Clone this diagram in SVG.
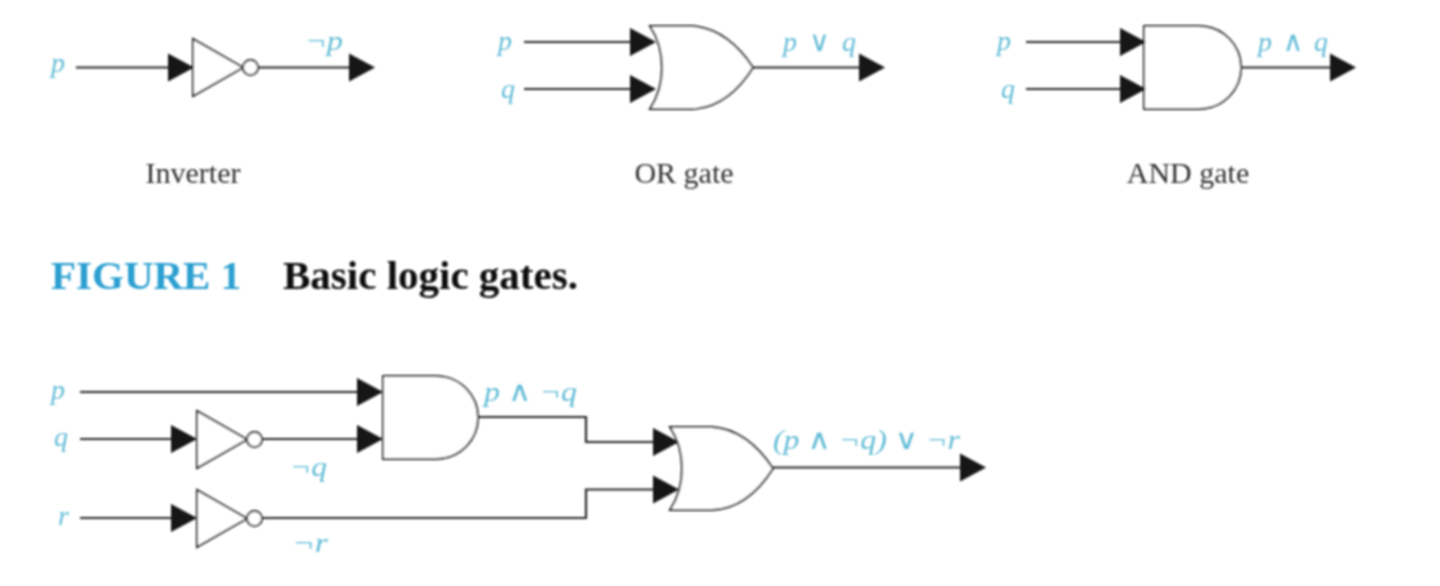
<svg xmlns="http://www.w3.org/2000/svg" width="1440" height="586" viewBox="0 0 1440 586">
<style>
.gate{fill:#fff;stroke:#1e1e1e;stroke-width:1.900}
.wire{fill:none;stroke:#262626;stroke-width:2.200;marker-end:url(#arrow)}
text{font-family:"Liberation Serif","DejaVu Serif",serif}
.lab{font-style:italic;font-size:28px;fill:#62bcd6}
.cap{font-size:30px;fill:#333;text-anchor:middle}
.head{font-size:41px;font-weight:bold}
</style>
<defs>
<marker id="arrow" markerUnits="userSpaceOnUse" markerWidth="27" markerHeight="30" refX="0" refY="15" orient="auto"><path d="M0 1L26 15L0 29Z" fill="#141414"/></marker>
<filter id="soft" filterUnits="userSpaceOnUse" x="0" y="0" width="1440" height="586"><feGaussianBlur stdDeviation="0.8"/></filter>
</defs>
<rect width="1440" height="586" fill="#fff"/>
<g filter="url(#soft)">
<g id="inverter-1"><path class="gate" d="M193 39V96L243 67.500Z"/><circle class="gate" cx="250.500" cy="67.500" r="7.500"/></g>
<g id="or-1"><path class="gate" d="M650 26H692C720 28 740 48 753 67.500C740 88 720 108 692 109H650C666 85 666 50 650 26Z"/></g>
<g id="and-1"><path class="gate" d="M1144 26H1198C1224 26 1241 46 1241 67.500C1241 89 1224 109 1198 109H1144Z"/></g>
<g id="and-2"><path class="gate" d="M383 376H435C461 376 478 396 478 417.500C478 439 461 459 435 459H383Z"/></g>
<g id="or-2" transform="translate(20,401)"><path class="gate" d="M650 26H692C720 28 740 48 753 67.500C740 88 720 108 692 109H650C666 85 666 50 650 26Z"/></g>
<g id="inverter-2" transform="translate(4,372)"><path class="gate" d="M193 39V96L243 67.500Z"/><circle class="gate" cx="250.500" cy="67.500" r="7.500"/></g>
<g id="inverter-3" transform="translate(4,451)"><path class="gate" d="M193 39V96L243 67.500Z"/><circle class="gate" cx="250.500" cy="67.500" r="7.500"/></g>
<g id="connectors">
<path class="wire" d="M76 67.500H168"/>
<path class="wire" d="M258 67.500H349"/>
<path class="wire" d="M524 42H630"/>
<path class="wire" d="M524 89H630"/>
<path class="wire" d="M753 67.500H859"/>
<path class="wire" d="M1026 42H1120"/>
<path class="wire" d="M1026 89H1120"/>
<path class="wire" d="M1241 67.500H1330"/>
<path class="wire" d="M80 392H357"/>
<path class="wire" d="M80 439H171"/>
<path class="wire" d="M262 439H357"/>
<path class="wire" d="M80 518H171"/>
<path class="wire" d="M478 417H586V442H653"/>
<path class="wire" d="M262 518H586V489.500H653"/>
<path class="wire" d="M773 467.500H960"/>
</g>
<g id="labels">
<text class="lab" x="51" y="72">p</text>
<text class="lab" x="305" y="50" textLength="38" lengthAdjust="spacingAndGlyphs">¬p</text>
<text class="lab" x="498" y="50">p</text>
<text class="lab" x="501" y="98">q</text>
<text class="lab" x="783" y="51" textLength="73">p ∨ q</text>
<text class="lab" x="997" y="50">p</text>
<text class="lab" x="1001" y="98">q</text>
<text class="lab" x="1258" y="51" textLength="70">p ∧ q</text>
<text class="lab" x="51" y="399">p</text>
<text class="lab" x="54" y="446">q</text>
<text class="lab" x="58" y="525">r</text>
<text class="lab" x="290" y="476" textLength="37" lengthAdjust="spacingAndGlyphs">¬q</text>
<text class="lab" x="292" y="552" textLength="36" lengthAdjust="spacingAndGlyphs">¬r</text>
<text class="lab" x="484" y="401" textLength="93" lengthAdjust="spacingAndGlyphs">p ∧ ¬q</text>
<text class="lab" x="773" y="449" textLength="187" lengthAdjust="spacingAndGlyphs">(p ∧ ¬q) ∨ ¬r</text>
</g>
<g id="captions">
<text class="cap" x="193" y="183">Inverter</text>
<text class="cap" x="684" y="183">OR gate</text>
<text class="cap" x="1188" y="183">AND gate</text>
<text class="head" x="51" y="289" fill="#2a9fd0">FIGURE 1</text>
<text class="head" x="283" y="289" fill="#0a0a0a">Basic logic gates.</text>
</g>
</g>
</svg>
